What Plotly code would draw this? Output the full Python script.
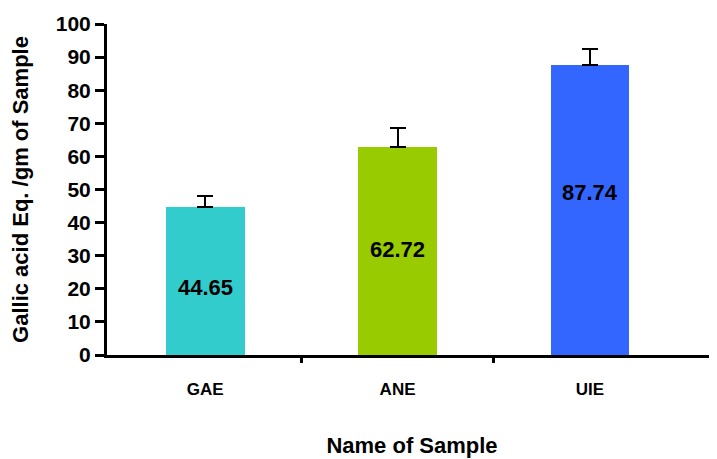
import plotly.graph_objects as go

categories = ["GAE", "ANE", "UIE"]
values = [44.65, 62.72, 87.74]
errors = [3.4, 5.9, 4.7]
colors = ["#33CCCC", "#99CC00", "#3366FF"]
value_labels = ["44.65", "62.72", "87.74"]
label_frac = [0.46, 0.51, 0.56]

FONT = "Liberation Sans"

fig = go.Figure()
fig.add_trace(go.Bar(
    x=categories, y=values,
    marker=dict(color=colors, line=dict(width=0)),
    width=0.41,
    error_y=dict(type="data", array=errors, symmetric=False, arrayminus=[0, 0, 0],
                 color="black", thickness=2, width=8),
    showlegend=False, hoverinfo="skip",
))

# boundary ticks between categories on an overlaid numeric axis
fig.add_trace(go.Scatter(x=[0], y=[0], xaxis="x2", mode="markers",
                         marker=dict(opacity=0), showlegend=False, hoverinfo="skip"))

for i, (c, v, t) in enumerate(zip(categories, values, value_labels)):
    fig.add_annotation(x=c, y=v * label_frac[i], text=t, showarrow=False,
                       font=dict(family=FONT, size=22, color="black", weight="bold"))

xr = [-0.51, 2.66]
fig.update_layout(
    width=709, height=451,
    margin=dict(l=99, r=0, t=16, b=104, autoexpand=False),
    paper_bgcolor="white", plot_bgcolor="white",
    bargap=0,
    xaxis=dict(
        range=xr, showline=True, linecolor="black", linewidth=3,
        ticks="outside", ticklen=17, tickcolor="rgba(0,0,0,0)",
        showgrid=False, zeroline=False, automargin=False,
        tickfont=dict(family=FONT, size=17, color="black", weight="bold"),
        tickvals=categories, ticktext=categories,
        title=dict(text="Name of Sample",
                   font=dict(family=FONT, size=22, color="black", weight="bold"),
                   standoff=40),
    ),
    xaxis2=dict(
        range=xr, overlaying="x", anchor="y", side="bottom", automargin=False,
        tickvals=[0.5, 1.5], ticktext=["", ""], ticks="outside", ticklen=7,
        tickwidth=3, tickcolor="black", showgrid=False, zeroline=False, showline=False,
    ),
    yaxis=dict(
        range=[0, 100], tickvals=list(range(0, 101, 10)), automargin=False,
        showline=True, linecolor="black", linewidth=3,
        ticks="outside", ticklen=9, tickwidth=3, tickcolor="black",
        showgrid=False, zeroline=False,
        tickfont=dict(family=FONT, size=21, color="black", weight="bold"),
        title=dict(text="Gallic acid Eq. /gm of Sample",
                   font=dict(family=FONT, size=22, color="black", weight="bold"), standoff=22),
    ),
)

fig.write_html("out.html")
